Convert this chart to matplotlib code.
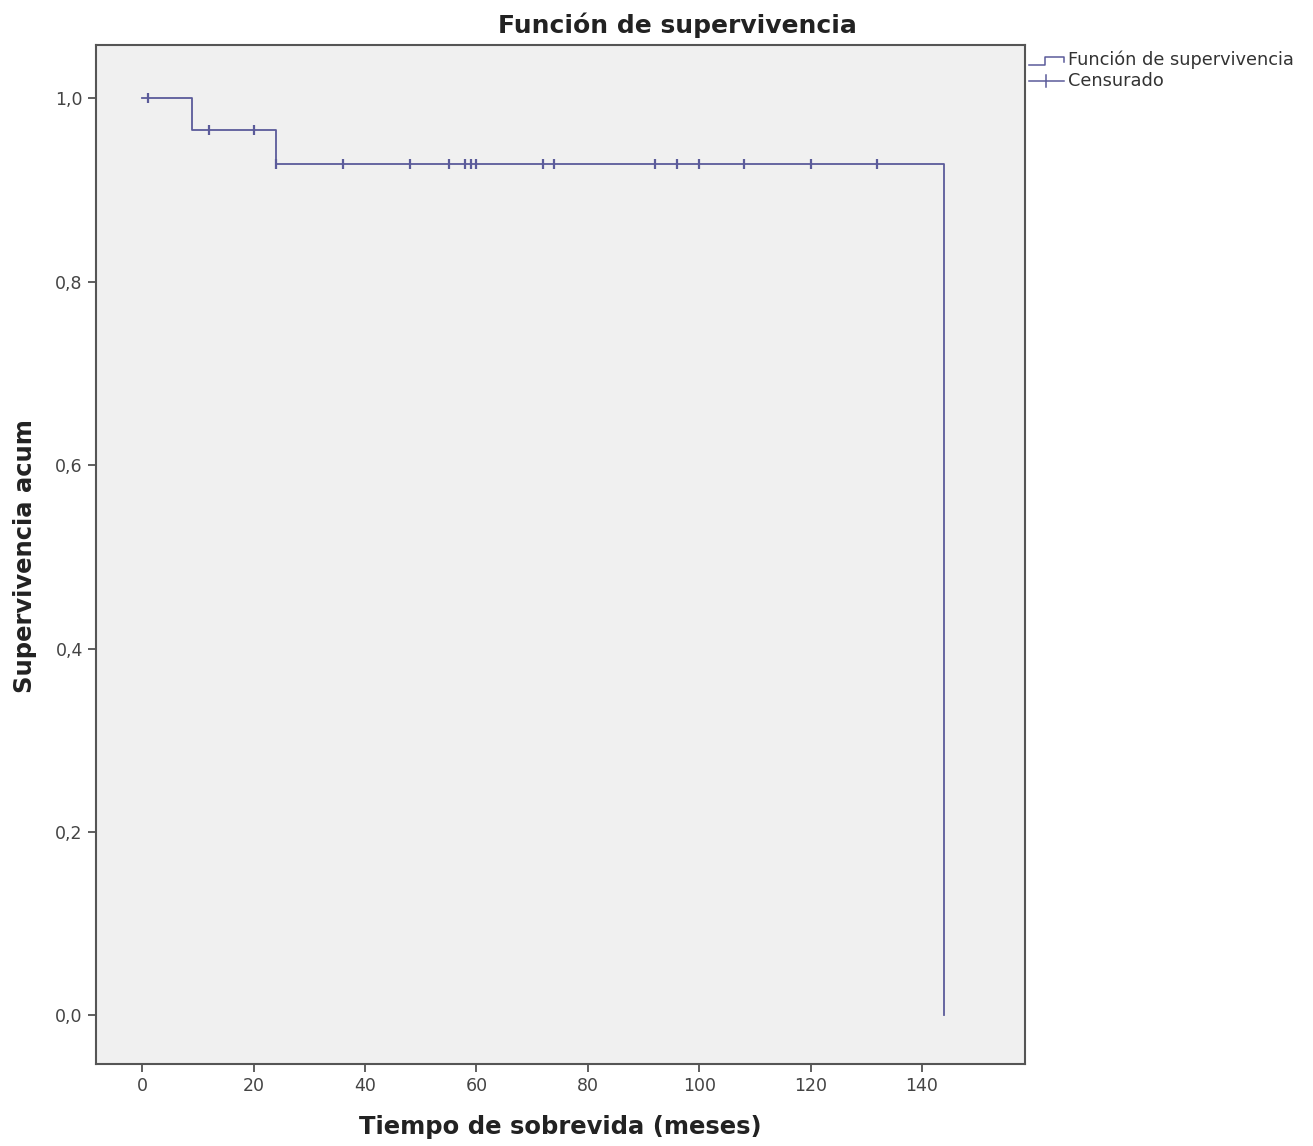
import numpy as np
import matplotlib
matplotlib.use('Agg')
import matplotlib.pyplot as plt
from matplotlib.lines import Line2D

# step function
event_times = [0, 9, 24, 144]
surv_vals = [1.0, 0.9655, 0.9284, 0.0]
censor_times = [1, 12, 20, 24, 36, 48, 55, 58, 59, 60, 72, 74, 92, 96, 100, 108, 120, 132]
xticks = [0, 20, 40, 60, 80, 100, 120, 140]
yticks = [0.0, 0.2, 0.4, 0.6, 0.8, 1.0]

line_col = '#5b5b9a'
W, H = 1313, 1146

fig = plt.figure(figsize=(W / 100, H / 100), dpi=100)
fig.patch.set_facecolor('white')
ax = fig.add_axes([96 / W, 1 - 1064 / H, (1025 - 96) / W, (1064 - 45) / H])
ax.set_facecolor('#f0f0f0')

ax.plot(event_times, surv_vals, drawstyle='steps-post', color=line_col, lw=1.3)

# censored marks sit on the curve level at their time
idx = np.searchsorted(event_times, censor_times, side='right') - 1
cens_y = [surv_vals[i] for i in idx]
ax.plot(censor_times, cens_y, ls='none', marker='|', ms=7, mew=1.6, color=line_col)

ax.set_xlim(-8.3, 158.5)
ax.set_ylim(-0.053, 1.058)
ax.set_xticks(xticks)
ax.set_yticks(yticks)
ax.set_yticklabels([f'{v:.1f}'.replace('.', ',') for v in yticks])
ax.tick_params(direction='out', length=6, width=1.2, color='#444444',
               labelsize=12.5, labelcolor='#444444')
for sp in ax.spines.values():
    sp.set_color('#555555')
    sp.set_linewidth(1.5)

fig.text(677 / W, 1 - 25 / H, 'Función de supervivencia', ha='center', va='center',
         fontsize=18, fontweight='bold', color='#222222')
fig.text(560 / W, 1 - 1127 / H, 'Tiempo de sobrevida (meses)', ha='center', va='center',
         fontsize=17.5, fontweight='bold', color='#222222')
fig.text(25 / W, 1 - 556 / H, 'Supervivencia acum', ha='center', va='center',
         rotation=90, fontsize=17.5, fontweight='bold', color='#222222')

# legend drawn by hand, outside the plot area
def px(x, y):
    return x / W, 1 - y / H

xs, ys = zip(*[px(1029, 65), px(1045, 65), px(1045, 57), px(1064, 57), px(1064, 62)])
fig.add_artist(Line2D(xs, ys, color=line_col, lw=1.1))
xs, ys = zip(*[px(1029, 81), px(1064, 81)])
fig.add_artist(Line2D(xs, ys, color=line_col, lw=1.1))
xs, ys = zip(*[px(1046, 75), px(1046, 87)])
fig.add_artist(Line2D(xs, ys, color=line_col, lw=1.1))
fig.text(1068 / W, 1 - 60 / H, 'Función de supervivencia', ha='left', va='center',
         fontsize=12.8, color='#333333')
fig.text(1068 / W, 1 - 81 / H, 'Censurado', ha='left', va='center',
         fontsize=12.8, color='#333333')

fig.savefig('out.png', dpi=100)
